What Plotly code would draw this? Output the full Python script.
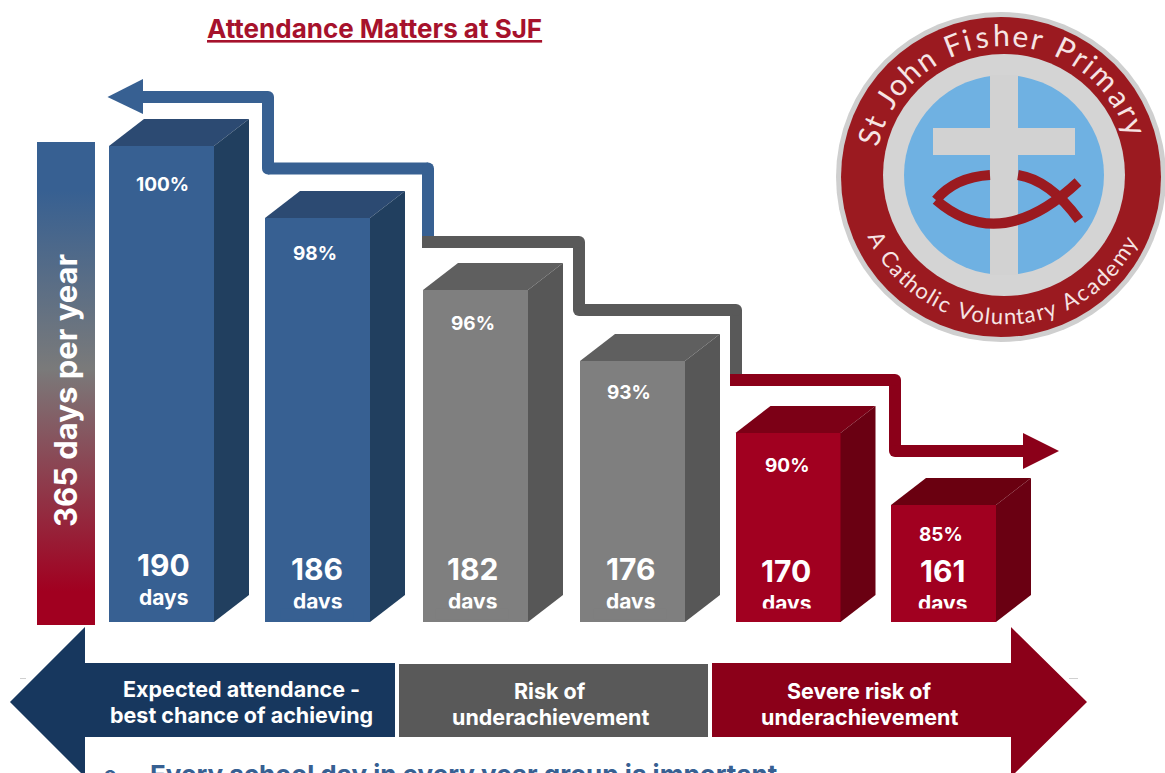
import math
import plotly.graph_objects as go

W, H = 1165, 773
BASE = 622          # pixel row of the bars' foot
FONT = "Inter"

# ---- data ----
days_values = [190, 186, 182, 176, 170, 161]
pct_labels = ["100%", "98%", "96%", "93%", "90%", "85%"]
bar_heights = [476, 404, 332, 261, 189, 117]   # drawn heights (the source's scale is not linear in days)
bar_centers = [161.5, 317.5, 475.5, 632.5, 788, 943.5]
front_colors = ["#376092", "#376092", "#7f7f7f", "#7f7f7f", "#a10020", "#a10020"]
top_colors = ["#2c4a72", "#2c4a72", "#5f5f5f", "#5f5f5f", "#7c0016", "#6a0010"]
side_colors = ["#213f5f", "#213f5f", "#575757", "#575757", "#6a0012", "#6a0012"]
days_x = [163, 317, 472, 630, 786, 942]
days_y = [565, 569, 569, 569, 571, 571]
days_word_y = [597, 601, 601, 601, 603, 603]
pct_x = [162, 315, 473, 629, 787, 941]
pct_y = [185, 254, 323, 392, 465, 534]
zone_labels = [
    ("Expected attendance -", "best chance of achieving"),
    ("Risk of", "underachievement"),
    ("Severe risk of", "underachievement"),
]
title_text = "Attendance Matters at SJF"
side_label = "365 days per year"
footer_text = "Every school day in every year group is important"
logo_top = "St John Fisher Primary"
logo_bottom = "A Catholic Voluntary Academy"

BAR_W, DX, DY = 105, 35, 27
fig = go.Figure()


def px(x):
    return x / W


def py(y):
    return 1 - y / H


# ---- bars ----
fig.add_trace(go.Bar(x=bar_centers, y=bar_heights, width=BAR_W, marker=dict(color=front_colors, line_width=0),
                     hoverinfo="skip", showlegend=False))
for c, h, tc, sc in zip(bar_centers, bar_heights, top_colors, side_colors):
    l, r = c - BAR_W / 2, c + BAR_W / 2
    fig.add_trace(go.Scatter(x=[l, l + DX, r + DX, r, l], y=[h, h + DY, h + DY, h, h], fill="toself", fillcolor=tc,
                             mode="lines", line_width=0, hoverinfo="skip", showlegend=False))
    fig.add_trace(go.Scatter(x=[r, r + DX, r + DX, r, r], y=[0, DY, h + DY, h, 0], fill="toself", fillcolor=sc,
                             mode="lines", line_width=0, hoverinfo="skip", showlegend=False))

# ---- gradient side band ----
fig.add_trace(go.Scatter(x=[37, 95, 95, 37, 37], y=[BASE - 142, BASE - 142, BASE - 625, BASE - 625, BASE - 142],
                         fill="toself", mode="lines", line_width=0, hoverinfo="skip", showlegend=False,
                         fillgradient=dict(type="vertical",
                                           colorscale=[[0, "#a10020"], [0.07, "#a10020"], [0.53, "#7a7a7a"],
                                                       [0.9, "#376092"], [1, "#376092"]])))

shapes = []


def poly(points, color, layer="below"):
    d = "M" + "L".join(f"{px(x):.5f},{py(y):.5f}" for x, y in points) + "Z"
    shapes.append(dict(type="path", xref="paper", yref="paper", path=d, fillcolor=color, line_width=0, layer=layer))


def stepline(points, color):
    for (x0, y0), (x1, y1) in zip(points, points[1:]):
        shapes.append(dict(type="line", xref="paper", yref="paper", x0=px(x0), y0=py(y0), x1=px(x1), y1=py(y1),
                           line=dict(color=color, width=12), layer="above"))
    for x, y in points[1:-1]:
        shapes.append(dict(type="circle", xref="paper", yref="paper", x0=px(x - 6), x1=px(x + 6), y0=py(y - 6),
                           y1=py(y + 6), fillcolor=color, line_width=0, layer="above"))


def circle(cx, cy, r, color):
    shapes.append(dict(type="circle", xref="paper", yref="paper", x0=px(cx - r), x1=px(cx + r), y0=py(cy - r),
                       y1=py(cy + r), fillcolor=color, line_width=0, layer="below"))


# ---- step lines with arrow heads ----
stepline([(428, 240), (428, 168.5), (268, 168.5), (268, 97), (140, 97)], "#376092")
poly([(107.5, 97), (143, 79), (143, 114)], "#376092", "above")
stepline([(422, 242), (579, 242), (579, 310), (736, 310), (736, 385)], "#595959")
stepline([(730, 380), (895, 380), (895, 451), (1026, 451)], "#8b0019")
poly([(1059, 451), (1023, 433), (1023, 469)], "#8b0019", "above")

# ---- big bottom arrows ----
poly([(10, 702), (85, 627), (85, 663), (395, 663), (395, 737), (85, 737), (85, 777)], "#17375e")
poly([(399, 664), (708, 664), (708, 737), (399, 737)], "#595959")
poly([(712, 663), (1011, 663), (1011, 627), (1087, 702), (1011, 777), (1011, 737), (712, 737)], "#8b0019")
poly([(20, 678), (26, 678), (26, 679), (20, 679)], "#d0d0d0")
poly([(1069, 678), (1078, 678), (1078, 679), (1069, 679)], "#d0d0d0")

# ---- logo ----
LX, LY = 1004, 175
circle(1001, 177, 165, "#cfcfcf")
circle(1001, 177, 160, "#9b1a20")
circle(LX, LY, 121, "#d4d4d4")
circle(LX, LY, 100, "#6fb1e2")
poly([(990, 75), (1018, 75), (1018, 275), (990, 275)], "#d2d2d2")
poly([(933, 128), (1075, 128), (1075, 155), (933, 155)], "#d2d2d2")
for path in [
    "M{0},{1} Q{2},{3} {4},{5}".format(px(990), py(175), px(955), py(177), px(936), py(200)),
    "M{0},{1} Q{2},{3} {4},{5}".format(px(1018), py(175), px(1050), py(180), px(1079), py(220)),
    "M{0},{1} Q{2},{3} {4},{5}".format(px(936), py(200), px(1000), py(255), px(1078), py(182)),
]:
    shapes.append(dict(type="path", xref="paper", yref="paper", path=path, line=dict(color="#9b1a20", width=10),
                       layer="below"))

annotations = []


def text(x, y, s, size, color="white", bold=True, angle=0, family=FONT, **kw):
    font = dict(family=family, size=size, color=color, weight=700 if bold else 400)
    font.update(kw.pop("font", {}))
    annotations.append(dict(xref="paper", yref="paper", x=px(x), y=py(y), text=s, showarrow=False, font=font,
                            xanchor=kw.pop("xanchor", "center"), yanchor=kw.pop("yanchor", "middle"),
                            textangle=angle, **kw))


NARROW = {"i": .5, "l": .5, "t": .6, "r": .7, " ": .6, "J": .7, "f": .6, "m": 1.5, "F": 1, "P": 1.1, "A": 1.2, "V": 1.2,
          "C": 1.2}


def arc_text(s, a0, a1, r, size, bottom=False):
    weights = [NARROW.get(ch, 1) for ch in s]
    total = sum(weights)
    run = 0
    for ch, w in zip(s, weights):
        t = (run + w / 2) / total
        run += w
        a = math.radians(a0 + (a1 - a0) * t)
        if ch == " ":
            continue
        if bottom:
            x, y = LX + r * math.sin(a), LY + r * math.cos(a)
            ang = -math.degrees(a)
        else:
            x, y = LX + r * math.sin(a), LY - r * math.cos(a)
            ang = math.degrees(a)
        text(x, y, ch, size, color="#f6e4e4", bold=False, angle=ang, family="Lato")


arc_text(logo_top, -78, 74, 141, 30)
arc_text(logo_bottom, -66, 64, 141, 22, bottom=True)

# ---- titles and labels ----
text(374, 28, title_text, 26, color="#a6122c", font=dict(lineposition="under"))
text(66, 390, side_label, 31, angle=-90)
for i, (dx, d, yd, yw, pxx, p, yp) in enumerate(zip(days_x, days_values, days_y, days_word_y, pct_x, pct_labels, pct_y)):
    text(dx, yd, str(d), 30)
    text(dx, yw, "days", 21)
    if i > 0:  # the source clips the word's descender at this row
        text(dx, 614, " ", 4, width=70, height=8, bgcolor=front_colors[i])
    text(pxx, yp, p, 19)
for cx, (a, b), ya, yb in zip([241, 550, 859], zone_labels, [689, 691, 691], [715, 717, 717]):
    text(cx, ya, a, 21.5)
    text(cx, yb, b, 21.5)
text(148, 757, footer_text, 26, color="#376092", xanchor="left", yanchor="top")
text(102, 760, "o", 20, color="#376092", xanchor="left", yanchor="top")

fig.update_layout(
    width=W, height=H, margin=dict(l=0, r=0, t=0, b=0), paper_bgcolor="white", plot_bgcolor="rgba(0,0,0,0)",
    xaxis=dict(range=[0, W], visible=False, fixedrange=True),
    yaxis=dict(range=[BASE - H, BASE], visible=False, fixedrange=True),
    shapes=shapes, annotations=annotations, showlegend=False, bargap=0,
)
fig.write_html("out.html", config={"displayModeBar": False},
               post_script="document.body.style.margin='0';document.documentElement.style.overflow='hidden';")
